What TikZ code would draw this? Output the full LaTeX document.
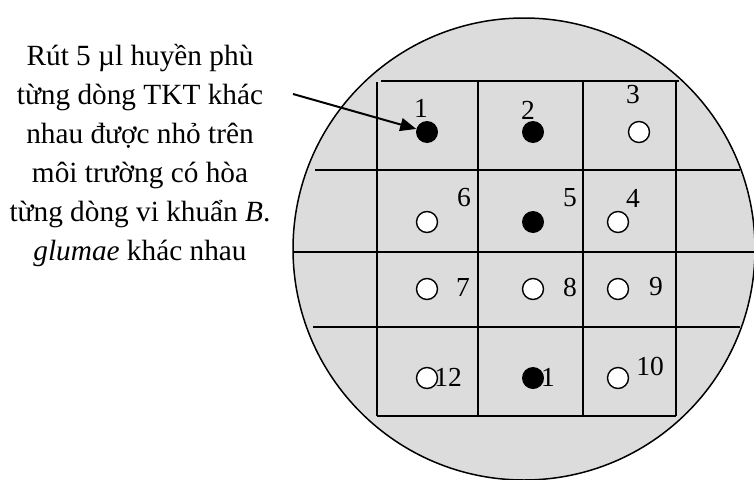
\documentclass[tikz,border=0pt]{standalone}
\usepackage{fontspec}
\setmainfont{Liberation Serif}
\usetikzlibrary{arrows.meta}
\definecolor{plategray}{RGB}{220,220,220}
\begin{document}
\begin{tikzpicture}[x=1pt,y=-1pt,
  plate/.style={fill=plategray, draw=black, line width=1.5pt},
  gridline/.style={line width=1.5pt},
  fulldot/.style={circle, fill=black, inner sep=0pt, minimum size=22pt},
  emptydot/.style={circle, draw=black, fill=white, line width=1.4pt, inner sep=0pt, minimum size=21pt},
  lbl/.style={font=\fontsize{27.5}{30}\selectfont, inner sep=0pt},
  note/.style={font=\fontsize{29.3}{39}\selectfont, align=center, inner sep=0pt},
  pointer/.style={line width=2pt, -{Triangle[length=16pt,width=13pt]}}]
\useasboundingbox (0,0) rectangle (754,479);
% plate
\draw[plate] (524,249) circle[radius=231pt];
% grid
\draw[gridline] (381,81) -- (679,81);
\draw[gridline] (315,170) -- (740,170);
\draw[gridline] (293,252) -- (754,252);
\draw[gridline] (313,327) -- (740,327);
\draw[gridline] (377,416) -- (676,416);
\draw[gridline] (377,82) -- (377,416);
\draw[gridline] (478,82) -- (478,416);
\draw[gridline] (583,82) -- (583,416);
\draw[gridline] (676,82) -- (676,416);
% dots
\node[fulldot]  (d1)  at (427,132) {};
\node[fulldot]  (d2)  at (533,132) {};
\node[emptydot] (d3)  at (639,132) {};
\node[emptydot] (d6)  at (427,222) {};
\node[fulldot]  (d5)  at (533,222) {};
\node[emptydot] (d4)  at (618,222) {};
\node[emptydot] (d7)  at (427,289) {};
\node[emptydot] (d8)  at (533,289) {};
\node[emptydot] (d9)  at (618,289) {};
\node[emptydot] (d12) at (427,378) {};
\node[fulldot]  (d11) at (533,378) {};
\node[emptydot] (d10) at (618,378) {};
% labels
\node[lbl] (l1)  at (421,108) {1};
\node[lbl] (l2)  at (528,110) {2};
\node[lbl] (l3)  at (633,95)  {3};
\node[lbl] (l6)  at (464,198) {6};
\node[lbl] (l5)  at (570,198) {5};
\node[lbl] (l4)  at (633,198) {4};
\node[lbl] (l7)  at (463,287) {7};
\node[lbl] (l8)  at (570,287) {8};
\node[lbl] (l9)  at (656,287) {9};
\node[lbl] (l12) at (448,377) {12};
\node[lbl] (l11) at (548,377) {1};
\node[lbl] (l10) at (650,366) {10};
% note
\node[note] (note) at (140,156) {Rút 5 µl huyền phù\\từng dòng TKT khác\\nhau được nhỏ trên\\môi trường có hòa\\từng dòng vi khuẩn \textit{B}.\\\textit{glumae} khác nhau};
\coordinate (as) at (293,94);
\draw[pointer] (as) -- (d1);
\end{tikzpicture}
\end{document}
